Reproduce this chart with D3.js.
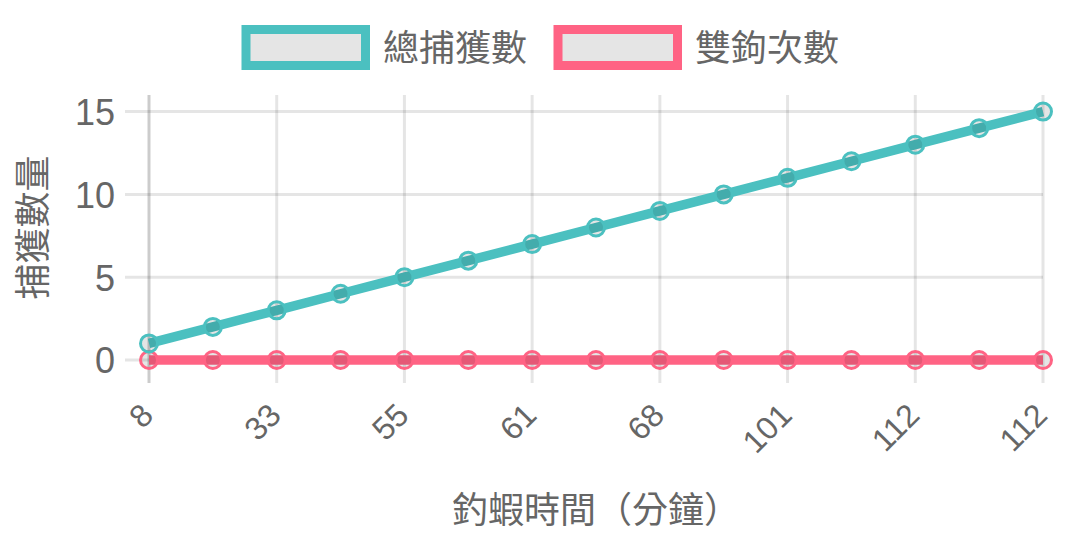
<!DOCTYPE html>
<html>
<head>
<meta charset="utf-8">
<script src="https://cdn.jsdelivr.net/npm/d3@7"></script>
<style>
  html, body { margin: 0; padding: 0; background: #fff; }
  svg { display: block; }
</style>
</head>
<body>
<svg id="chart" width="1086" height="543"></svg>
<script>
// ---- data ----
const categories = ["8", "20", "33", "45", "55", "58", "61", "65", "68", "85", "101", "108", "112", "112", "112"];
const totalCatch = [1, 2, 3, 4, 5, 6, 7, 8, 9, 10, 11, 12, 13, 14, 15];
const doubleHook = [0, 0, 0, 0, 0, 0, 0, 0, 0, 0, 0, 0, 0, 0, 0];
const seriesNames = ["總捕獲數", "雙鉤次數"];
const yTicks = [0, 5, 10, 15];
const xTitle = "釣蝦時間（分鐘）";
const yTitle = "捕獲數量";

// ---- layout ----
const W = 1086, H = 543;
const area = { left: 149, right: 1043, top: 95, bottom: 360 };
const colors = ["#4BC0C0", "#FF6384"];
const cjk = "'Noto Sans CJK TC', 'Noto Sans CJK SC', sans-serif";
const num = "'Liberation Sans', Helvetica, Arial, sans-serif";
const textColor = "#666";
const gridColor = "rgba(0,0,0,0.1)";

const svg = d3.select("#chart");

const idx = categories.map((d, i) => i);
const x = d3.scalePoint().domain(idx).range([area.left, area.right]).padding(0);
const y = d3.scaleLinear().domain([0, 16]).range([area.bottom, area.top]);
const shownIdx = idx.filter(i => i % 2 === 0);

// ---- grid ----
const grid = svg.append("g");
grid.selectAll("line.h").data(yTicks).join("line")
  .attr("x1", area.left - 24).attr("x2", area.right)
  .attr("y1", d => y(d)).attr("y2", d => y(d))
  .attr("stroke", gridColor).attr("stroke-width", 3);
grid.selectAll("line.v").data(shownIdx).join("line")
  .attr("x1", d => x(d)).attr("x2", d => x(d))
  .attr("y1", area.top).attr("y2", area.bottom + 23)
  .attr("stroke", d => d === 0 ? "rgba(0,0,0,0.2)" : gridColor)
  .attr("stroke-width", 3);

// ---- y axis ticks ----
const yAxis = d3.axisLeft(y).tickValues(yTicks).tickSize(0).tickPadding(0);
const yg = svg.append("g").attr("transform", `translate(115,0)`).call(yAxis);
yg.select(".domain").remove();
yg.selectAll("text")
  .attr("fill", textColor).style("font-family", num).style("font-size", "36px")
  .attr("dy", "0.36em");

// ---- x axis ticks (every other label shown) ----
const xAxis = d3.axisBottom(x).tickValues(shownIdx).tickSize(0).tickPadding(0)
  .tickFormat(i => categories[i]);
const xg = svg.append("g").call(xAxis);
xg.select(".domain").remove();
xg.selectAll(".tick").attr("transform", d => `translate(${x(d) - 2},409)`);
xg.selectAll("text")
  .attr("fill", textColor).style("font-family", num).style("font-size", "32px")
  .attr("text-anchor", "end").attr("y", 0).attr("dy", "0.36em")
  .attr("transform", "rotate(-45)");

// ---- axis titles ----
svg.append("text").attr("x", (area.left + area.right) / 2).attr("y", 523)
  .attr("text-anchor", "middle").attr("fill", textColor)
  .style("font-family", cjk).style("font-size", "36px").text(xTitle);
svg.append("text").attr("transform", `translate(46,${(area.top + area.bottom) / 2}) rotate(-90)`)
  .attr("text-anchor", "middle").attr("fill", textColor)
  .style("font-family", cjk).style("font-size", "36px").text(yTitle);

// ---- series ----
const series = [
  { name: seriesNames[0], values: totalCatch, color: colors[0] },
  { name: seriesNames[1], values: doubleHook, color: colors[1] }
];
const line = d3.line().x((d, i) => x(i)).y(d => y(d));

series.slice().reverse().forEach(s => {
  const g = svg.append("g");
  g.append("path").datum(s.values).attr("d", line)
    .attr("fill", "none").attr("stroke", s.color).attr("stroke-width", 9.5)
    .attr("stroke-linejoin", "round");
  g.selectAll("circle").data(s.values).join("circle")
    .attr("cx", (d, i) => x(i)).attr("cy", d => y(d)).attr("r", 8.5)
    .attr("fill", "rgba(0,0,0,0.1)").attr("stroke", s.color).attr("stroke-width", 3);
});

// ---- legend ----
const legendItems = [
  { name: seriesNames[0], color: colors[0], x: 246 },
  { name: seriesNames[1], color: colors[1], x: 558 }
];
const lg = svg.append("g");
legendItems.forEach(it => {
  lg.append("rect").attr("x", it.x).attr("y", 29.5).attr("width", 119.5).attr("height", 36)
    .attr("fill", "rgba(0,0,0,0.1)").attr("stroke", it.color).attr("stroke-width", 9);
  lg.append("text").attr("x", it.x + 137).attr("y", 48).attr("dy", "0.36em")
    .attr("fill", textColor).style("font-family", cjk).style("font-size", "36px").text(it.name);
});
</script>
</body>
</html>
